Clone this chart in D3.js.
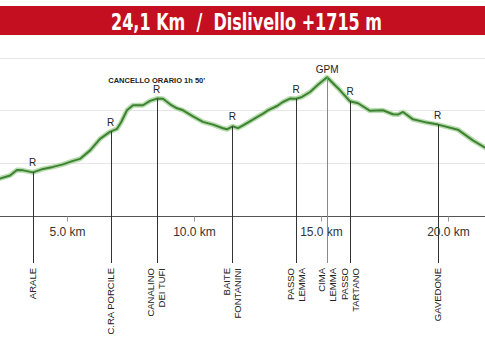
<!DOCTYPE html>
<html>
<head>
<meta charset="utf-8">
<script src="https://cdn.jsdelivr.net/npm/d3@7"></script>
<style>
  html, body { margin: 0; padding: 0; background: #fff; }
  svg { display: block; }
</style>
</head>
<body>
<svg id="chart" width="485" height="345"></svg>
<script>
// Route profile: distance (km) and elevation (m)
const profileKm = [2.36, 2.76, 3.03, 3.27, 3.66, 4.06, 4.45, 4.84, 5.24, 5.51, 5.91, 6.30, 6.69, 6.97, 7.13, 7.36,
  7.60, 7.99, 8.27, 8.54, 8.78, 9.06, 9.33, 9.57, 9.96, 10.35, 10.75, 11.14, 11.30, 11.52, 11.73, 11.93,
  12.20, 12.48, 12.72, 12.91, 13.27, 13.50, 13.78, 14.02, 14.25, 14.57, 14.88, 15.24, 15.51, 15.75,
  16.14, 16.46, 16.93, 17.44, 17.83, 18.03, 18.23, 18.62, 19.17, 19.61, 20.39, 20.98, 21.46, 21.85];
const profileElev = [1352, 1381, 1433, 1429, 1410, 1443, 1462, 1486, 1519, 1538, 1619, 1729, 1795, 1824, 1886, 2000,
  2048, 2048, 2090, 2111, 2110, 2057, 2019, 2000, 1943, 1890, 1864, 1829, 1819, 1848, 1831, 1857,
  1895, 1936, 1969, 2000, 2041, 2079, 2111, 2110, 2127, 2174, 2243, 2314, 2248, 2190,
  2086, 2067, 1995, 2000, 1962, 1959, 1984, 1914, 1883, 1864, 1816, 1714, 1645, 1590];

// Waypoints along the route
const waypointKm = [3.65, 6.72, 8.53, 11.51, 14.02, 15.24, 16.15, 19.59];
const waypointNames = [["ARALE"], ["C.RA PORCILE"], ["CANALINO", "DEI TUFI"], ["BAITE", "FONTANINI"],
  ["PASSO", "LEMMA"], ["CIMA", "LEMMA"], ["PASSO", "TARTANO"], ["GAVEDONE"]];
const waypointTags = ["R", "R", "R", "R", "R", "GPM", "R", "R"];

const distanceTicks = [5, 10, 15, 20];
const elevationGrid = [1500, 2000, 2500];
const titleText = "24,1 Km  /  Dislivello +1715 m";
const cutoffNote = "CANCELLO ORARIO 1h 50'";
const cutoffIndex = 2;

const W = 485, H = 345;
const svg = d3.select("#chart");

// Scales: route distance across, elevation upward
const x = d3.scaleLinear().domain([0, 24.1]).range([-60, -60 + 24.1 * 25.4]);
const y = d3.scaleLinear().domain([1000, 2500]).range([215.5, 57.7]);

// Title banner
svg.append("rect").attr("x", 0).attr("y", 6).attr("width", W).attr("height", 29).attr("fill", "#c30f20");
svg.append("text")
  .attr("x", 246.5).attr("y", 29.5)
  .attr("text-anchor", "middle")
  .attr("font-family", "'Liberation Sans Narrow', 'DejaVu Sans Condensed', 'Liberation Sans', sans-serif")
  .attr("font-weight", "bold")
  .attr("font-size", 23.5)
  .attr("fill", "#fff")
  .attr("textLength", 271)
  .attr("lengthAdjust", "spacingAndGlyphs")
  .style("white-space", "pre")
  .text(titleText);

// Horizontal gridlines
svg.append("g").selectAll("line").data(elevationGrid).join("line")
  .attr("x1", 0).attr("x2", W)
  .attr("y1", d => Math.round(y(d)) + 0.5).attr("y2", d => Math.round(y(d)) + 0.5)
  .attr("stroke", "#e6e6e6").attr("stroke-width", 1);

// Distance axis
const axis = svg.append("g")
  .attr("transform", `translate(0,${Math.round(y(1000)) + 0.5})`)
  .call(d3.axisBottom(x).tickValues(distanceTicks).tickSize(5).tickPadding(6)
    .tickFormat(d => d3.format(".1f")(d) + " km"));
axis.select(".domain").attr("d", `M0,0H${W}`).attr("stroke", "#555");
axis.selectAll(".tick line").attr("stroke", "#999");
axis.selectAll(".tick text")
  .attr("font-family", "'Liberation Sans', Arial, sans-serif")
  .attr("font-size", 12).attr("fill", "#333");

// Elevation profile line
const pts = profileKm.map((k, i) => [k, profileElev[i]]);
const line = d3.line().x(d => x(d[0])).y(d => y(d[1])).curve(d3.curveLinear);
svg.append("clipPath").attr("id", "plotClip")
  .append("rect").attr("x", 0).attr("y", 40).attr("width", W).attr("height", 180);
const prof = svg.append("g").attr("clip-path", "url(#plotClip)");
prof.append("path").datum(pts).attr("d", line)
  .attr("fill", "none").attr("stroke", "#b9dcae").attr("stroke-width", 5)
  .attr("stroke-linejoin", "round").attr("stroke-linecap", "round");
prof.append("path").datum(pts).attr("d", line)
  .attr("fill", "none").attr("stroke", "#3d8233").attr("stroke-width", 2)
  .attr("stroke-linejoin", "round").attr("stroke-linecap", "round");

// Elevation at a given distance, read along the profile
function elevAt(k) {
  const i = d3.bisectRight(profileKm, k);
  if (i <= 0) return profileElev[0];
  if (i >= profileKm.length) return profileElev[profileKm.length - 1];
  const t = (k - profileKm[i - 1]) / (profileKm[i] - profileKm[i - 1]);
  return profileElev[i - 1] + t * (profileElev[i] - profileElev[i - 1]);
}

// Waypoint markers: drop line, tag above, rotated name below
const wp = svg.append("g").selectAll("g").data(waypointKm).join("g");
wp.append("line")
  .attr("x1", d => Math.round(x(d)) + 0.5).attr("x2", d => Math.round(x(d)) + 0.5)
  .attr("y1", d => y(elevAt(d))).attr("y2", 263)
  .attr("stroke", (d, i) => waypointTags[i] === "GPM" ? "#8a8a8a" : "#333")
  .attr("stroke-width", 1);
wp.append("text")
  .attr("x", d => x(d)).attr("y", (d, i) => y(elevAt(d)) - (waypointTags[i] === "GPM" ? 4 : 6))
  .attr("text-anchor", "middle")
  .attr("font-family", "'Liberation Sans', Arial, sans-serif")
  .attr("font-size", 10).attr("fill", "#222")
  .text((d, i) => waypointTags[i]);
wp.each(function(d, i) {
  const names = waypointNames[i];
  const g = d3.select(this).append("text")
    .attr("transform", `translate(${x(d)},268) rotate(-90)`)
    .attr("text-anchor", "end")
    .attr("font-family", "'Liberation Sans', Arial, sans-serif")
    .attr("font-size", 9.5).attr("fill", "#222");
  names.forEach((n, j) => {
    const off = (j - (names.length - 1) / 2) * 11;
    g.append("tspan").attr("x", 0).attr("y", off).attr("dy", "0.35em").text(n);
  });
});

// Time cut-off note above the marker
svg.append("text")
  .attr("x", x(waypointKm[cutoffIndex])).attr("y", 83)
  .attr("text-anchor", "middle")
  .attr("font-family", "'Liberation Sans', Arial, sans-serif")
  .attr("font-weight", "bold")
  .attr("font-size", 7.5).attr("fill", "#222")
  .text(cutoffNote);
</script>
</body>
</html>
